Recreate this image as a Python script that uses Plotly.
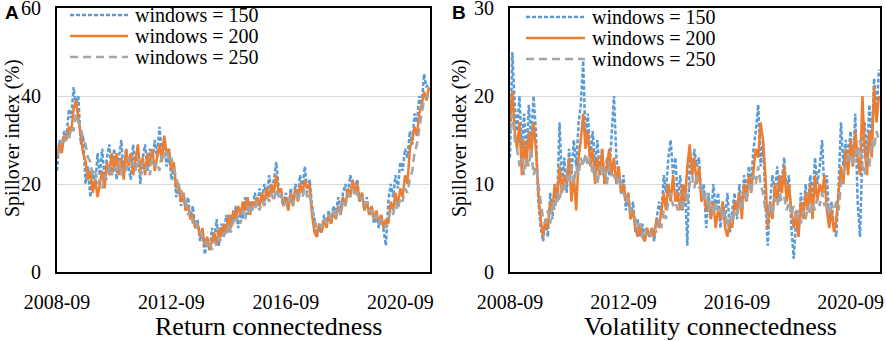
import pandas as pd
import plotly.graph_objects as go

# ---------------- data (monthly, 2008-09 .. 2021-09) ----------------
dates = pd.date_range("2008-09-01", periods=157, freq="MS")

ret_w150 = [23, 30, 28, 32, 31, 37, 35, 42, 38, 40, 29, 31,
            20, 24, 17, 23, 19, 27, 22, 28, 21, 26, 29, 22,
            28, 21, 26, 30, 22, 28, 24, 21, 29, 23, 27, 20,
            26, 29, 23, 28, 25, 30, 26, 33, 27, 30, 24, 27,
            21, 24, 17, 20, 15, 18, 14, 17, 12, 15, 10, 12,
            7, 9, 4, 7, 5, 10, 7, 12, 6, 11, 8, 13,
            9, 13, 11, 15, 10, 14, 12, 17, 13, 16, 14, 18,
            15, 19, 16, 20, 17, 22, 18, 21, 25, 19, 17, 15,
            18, 14, 19, 16, 20, 17, 22, 19, 24, 18, 21, 15,
            12, 8, 10, 9, 13, 10, 14, 11, 15, 13, 17, 14,
            18, 20, 17, 22, 20, 19, 21, 16, 18, 14, 17, 13,
            15, 11, 13, 10, 13, 9, 6, 16, 20, 17, 22, 19,
            25, 23, 28, 26, 32, 29, 36, 34, 40, 38, 45, 42, 43]

ret_w200 = [26, 29, 27, 31, 30, 33, 32, 37, 39, 35, 31, 27,
            25, 21, 23, 18, 21, 17, 20, 23, 19, 25, 22, 27,
            23, 27, 22, 26, 21, 28, 24, 27, 22, 26, 29, 23,
            26, 22, 27, 24, 28, 23, 26, 29, 25, 31, 27, 28,
            23, 25, 19, 20, 16, 18, 14, 15, 12, 13, 10, 11,
            8, 10, 6, 8, 5, 7, 9, 6, 10, 8, 11, 9,
            13, 10, 14, 12, 15, 13, 16, 14, 17, 13, 16, 15,
            17, 15, 18, 16, 19, 17, 20, 18, 22, 18, 19, 15,
            17, 14, 18, 15, 19, 16, 20, 18, 21, 19, 20, 13,
            9, 8, 11, 9, 12, 10, 13, 11, 14, 12, 15, 13,
            17, 15, 19, 17, 21, 18, 20, 16, 18, 14, 16, 13,
            15, 12, 14, 11, 13, 10, 12, 11, 16, 14, 18, 15,
            19, 17, 22, 20, 28, 30, 33, 31, 36, 38, 41, 39, 42]

ret_w250 = [28, 27, 30, 29, 31, 30, 33, 32, 36, 34, 33, 30,
            29, 26, 25, 22, 23, 20, 21, 19, 22, 21, 24, 22,
            24, 23, 25, 22, 24, 23, 26, 24, 25, 23, 26, 22,
            25, 23, 24, 22, 26, 24, 25, 23, 27, 26, 28, 25,
            26, 23, 22, 19, 19, 16, 16, 13, 14, 11, 12, 10,
            10, 8, 8, 6, 7, 5, 7, 6, 8, 7, 9, 8,
            11, 9, 12, 11, 13, 11, 14, 12, 15, 13, 15, 14,
            16, 14, 16, 15, 17, 16, 18, 16, 19, 17, 18, 15,
            16, 15, 17, 15, 18, 16, 18, 17, 19, 17, 18, 14,
            12, 10, 11, 10, 12, 11, 13, 12, 14, 12, 15, 13,
            16, 15, 18, 17, 19, 17, 18, 16, 17, 15, 16, 14,
            14, 12, 13, 11, 12, 11, 10, 12, 14, 13, 16, 14,
            17, 16, 19, 18, 21, 23, 27, 29, 33, 36, 39, 40, 40]

vol_w150 = [13, 25, 19, 16, 20, 14, 18, 13, 19, 15, 20, 16,
            8, 5, 3.5, 6, 4, 9, 6, 10, 8, 17, 10, 13,
            9, 14, 11, 15, 12, 17, 19, 24, 15, 18, 13, 16,
            12, 15, 11, 14, 10, 13, 11, 15, 20, 13, 11, 9,
            11, 7, 9, 6, 8, 4.5, 6, 4, 5.5, 3.5, 5, 4,
            5, 3.5, 6, 8, 6.5, 11, 9, 13, 15, 11, 13, 8,
            11, 7, 10, 3, 13, 11, 14, 12, 13, 8, 10, 5,
            9, 6, 10, 7, 9, 5, 8, 6, 9, 4.5, 7, 9,
            6, 10, 7, 11, 9, 12, 10, 14, 16, 19, 12, 15,
            8, 3, 8, 11, 9, 12, 8, 11, 13, 9, 11, 5,
            1.5, 6, 4, 9, 6, 10, 7, 11, 8, 13, 10, 12,
            15, 9, 11, 6, 8, 5, 4, 10, 17, 12, 15, 13,
            16, 12, 18, 8, 4, 14, 17, 13, 19, 15, 22, 18, 23]

vol_w200 = [17, 20.5, 16, 14, 17, 11, 15, 12, 16, 13, 17, 14,
            9, 6, 4, 6, 5, 8, 7, 10, 8, 12, 9, 11,
            10, 13, 8, 11, 7, 13, 15, 18, 14, 16, 12, 14,
            10, 13, 11, 14, 10, 12, 14, 11, 13, 10, 12, 9,
            10, 8, 9, 6, 7, 5, 4, 5.5, 4, 3.5, 5, 4,
            5, 4, 6, 5, 7, 9, 7, 10, 8, 11, 8, 9,
            7, 10, 8, 12, 14.5, 11, 13, 10, 12, 8, 9, 7,
            8, 6, 8, 5, 7, 6, 8, 5, 4, 6, 5, 8,
            7, 9, 6, 10, 8, 11, 9, 12, 14, 13, 17, 15,
            11, 5, 8, 6, 10, 8, 11, 9, 12, 8, 10, 7,
            5, 7, 4, 8, 6, 9, 7, 10, 6, 11, 8, 10,
            9, 11, 7, 5, 7, 4.5, 6, 9, 12, 10, 14, 11,
            15, 12, 16, 13, 11, 20, 14, 11, 16, 13, 21, 17, 20]

vol_w250 = [16, 18, 15, 14, 12, 13, 11, 13, 12, 14, 11, 12,
            10, 8, 6, 5.5, 7, 5.5, 8, 7, 9, 8, 10, 9,
            11, 10, 12, 10, 12, 11, 13, 12, 13.5, 12, 13, 11,
            12, 10, 12, 11, 12, 10, 12, 11, 11, 10, 11, 9,
            9, 8, 8.5, 7, 6.5, 6, 5, 5.5, 4, 5, 4, 4.5,
            4, 5, 4.5, 6, 5, 7, 6, 8, 9, 7.5, 8, 7,
            8, 7, 9, 8, 10, 11, 9.5, 11, 9.5, 10, 8, 9,
            7, 8, 6.5, 8, 7, 7.5, 6, 7, 5, 6.5, 5.5, 7,
            6.5, 8, 7, 9, 8, 10, 9, 11, 10, 12, 10, 9,
            7, 6, 8, 6.5, 8.5, 7.5, 9, 8, 8.5, 7, 8, 6.5,
            7.5, 6, 7, 5.5, 7, 6, 7.5, 6.5, 8, 7, 8.5, 7.5,
            9, 7.5, 8, 6.5, 7.5, 7, 8, 7, 10, 11.5, 12, 13,
            13.5, 12, 14, 13, 15, 12, 11, 13, 12, 15, 14, 16, 15]

series_names = ["windows = 150", "windows = 200", "windows = 250"]
x_tick_vals = ["2008-09-01", "2012-09-01", "2016-09-01", "2020-09-01"]
x_tick_text = ["2008-09", "2012-09", "2016-09", "2020-09"]
ret_ticks = [0, 20, 40, 60]
vol_ticks = [0, 10, 20, 30]
panel_titles = ["Return connectedness", "Volatility connectedness"]
y_title = "Spillover index (%)"

# ---------------- styling ----------------
W, H = 886, 341
colors = ["#5B9BD5", "#ED7D31", "#A5A5A5"]
dashes = ["4px,2px", "solid", "8px,5px"]
SERIF = "Liberation Serif, Times New Roman, serif"
LW = 2.5

def px_x(p):
    return p / W

def px_y(p):
    return 1 - p / H

fig = go.Figure()
panels = [(ret_w150, ret_w200, ret_w250), (vol_w150, vol_w200, vol_w250)]
for pi, data in enumerate(panels):
    xa = "x" if pi == 0 else "x2"
    ya = "y" if pi == 0 else "y2"
    for si, vals in enumerate(data):
        fig.add_trace(go.Scatter(
            x=dates, y=vals, mode="lines", name=series_names[si],
            line=dict(color=colors[si], width=LW, dash=dashes[si]),
            xaxis=xa, yaxis=ya, showlegend=False))

# plot areas (pixels)
A_L, A_R = 57, 430
B_L, B_R = 510, 880
TOP, BOT = 8, 272

common_x = dict(
    type="date", range=["2008-09-01", "2021-09-15"], automargin=False,
    tickmode="array", tickvals=x_tick_vals, ticktext=x_tick_text,
    showgrid=False, zeroline=False, showline=True, linecolor="black",
    linewidth=2, mirror=True, ticks="outside", ticklen=11,
    tickcolor="rgba(0,0,0,0)", ticklabeloverflow="allow",
    tickfont=dict(family=SERIF, size=20, color="black"))
common_y = dict(
    tickmode="array", showgrid=True, gridcolor="#D9D9D9", gridwidth=1,
    automargin=False, ticklabeloverflow="allow",
    zeroline=False, showline=True, linecolor="black", linewidth=2,
    mirror=True, ticks="outside", ticklen=10, tickcolor="rgba(0,0,0,0)",
    tickfont=dict(family=SERIF, size=20, color="black"))

fig.update_layout(
    width=W, height=H, margin=dict(l=0, r=0, t=0, b=0, autoexpand=False),
    paper_bgcolor="white", plot_bgcolor="white",
    xaxis=dict(domain=[px_x(A_L), px_x(A_R)], anchor="y", **common_x),
    xaxis2=dict(domain=[px_x(B_L), px_x(B_R)], anchor="y2", **common_x),
    yaxis=dict(domain=[px_y(BOT), px_y(TOP)], anchor="x", range=[0, 60],
               tickvals=ret_ticks, **common_y),
    yaxis2=dict(domain=[px_y(BOT), px_y(TOP)], anchor="x2", range=[0, 30],
                tickvals=vol_ticks, **common_y),
    showlegend=False,
)

# legends (drawn inside each panel, top-left)
legend_pos = [(70, 128, 133, [15, 36, 57]), (526, 585, 590, [17, 38, 59])]
for (x0, x1, xt, rows) in legend_pos:
    for si, yy in enumerate(rows):
        fig.add_shape(type="line", xref="paper", yref="paper",
                      x0=px_x(x0), x1=px_x(x1), y0=px_y(yy), y1=px_y(yy),
                      line=dict(color=colors[si], width=LW, dash=dashes[si]))
        fig.add_annotation(x=px_x(xt), y=px_y(yy), xref="paper", yref="paper",
                           text=series_names[si], showarrow=False,
                           xanchor="left", yanchor="middle",
                           font=dict(family=SERIF, size=20, color="black"))

# panel letters
for letter, xp in [("A", 3), ("B", 450)]:
    fig.add_annotation(x=px_x(xp), y=px_y(13), xref="paper", yref="paper",
                       text="<b>%s</b>" % letter, showarrow=False,
                       xanchor="left", yanchor="middle",
                       font=dict(family="Liberation Sans, Arial, sans-serif",
                                 size=19, color="black"))

# panel titles (x axis titles)
for t, xc in zip(panel_titles, [268, 710]):
    fig.add_annotation(x=px_x(xc), y=px_y(326), xref="paper", yref="paper",
                       text=t, showarrow=False, xanchor="center",
                       yanchor="middle",
                       font=dict(family=SERIF, size=26, color="black"))

# y axis titles
for xc in [12, 459]:
    fig.add_annotation(x=px_x(xc), y=px_y(138), xref="paper", yref="paper",
                       text=y_title, showarrow=False, textangle=-90,
                       xanchor="center", yanchor="middle",
                       font=dict(family=SERIF, size=20, color="black"))

fig.write_html("out.html",
               config={"displayModeBar": False},
               post_script="document.body.style.margin='0';"
                           "document.body.style.overflow='hidden';")
